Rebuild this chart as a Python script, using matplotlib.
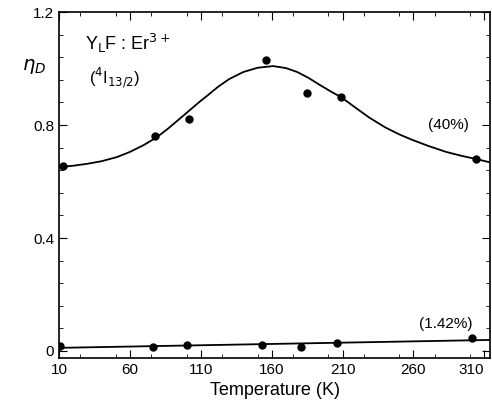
import matplotlib
matplotlib.use("Agg")
import matplotlib.pyplot as plt
from matplotlib.ticker import MultipleLocator

plt.rcParams['font.family'] = ['Liberation Sans', 'DejaVu Sans']

# 40% sample: measured points
t40 = [13, 78, 102, 156, 185, 209, 304]
e40 = [0.655, 0.761, 0.821, 1.030, 0.913, 0.899, 0.680]
# 40% fitted curve
t40c = [10, 20, 30, 40, 51, 60, 70, 79, 87, 95, 102, 109, 115, 122, 130, 140, 150, 161, 170,
        178, 186, 194, 202, 209, 219, 229, 240, 250, 259, 270, 283, 294, 304, 314]
e40c = [0.651, 0.656, 0.663, 0.672, 0.687, 0.705, 0.730, 0.757, 0.788, 0.822, 0.852, 0.882,
        0.906, 0.935, 0.963, 0.988, 1.003, 1.009, 1.002, 0.988, 0.967, 0.942, 0.918, 0.899,
        0.862, 0.826, 0.792, 0.767, 0.748, 0.727, 0.705, 0.691, 0.680, 0.668]

# 1.42% sample
t142 = [11, 76, 100, 153, 181, 206, 301]
e142 = [0.018, 0.014, 0.021, 0.021, 0.014, 0.028, 0.046]
t142c = [10, 314]
e142c = [0.011, 0.039]

xticks = [10, 60, 110, 160, 210, 260, 310]
yticks = [0, 0.4, 0.8, 1.2]
ylabels = ['0', '0.4', '0.8', '1.2']

fig = plt.figure(figsize=(4.92, 4.05), dpi=100)
ax = fig.add_axes([0.12, 0.116, 0.876, 0.854])

ax.plot(t40c, e40c, color='black', lw=1.3)
ax.plot(t40, e40, 'o', color='black', ms=5)
ax.plot(t142c, e142c, color='black', lw=1.3)
ax.plot(t142, e142, 'o', color='black', ms=5)

ax.set_xlim(10, 314)
ax.set_ylim(-0.025, 1.2)
ax.set_xticks(xticks)
ax.set_xticklabels([str(v) for v in xticks])
ax.set_yticks(yticks)
ax.set_yticklabels(ylabels)
ax.yaxis.set_minor_locator(MultipleLocator(0.08))
ax.xaxis.set_minor_locator(MultipleLocator(25))
ax.tick_params(which='both', direction='in', top=True, right=True, labelsize=11)
ax.tick_params(which='major', length=6)
ax.tick_params(which='minor', length=3)
for s in ax.spines.values():
    s.set_linewidth(1.2)
ax.get_xticklabels()[-1].set_horizontalalignment('right')
ax.get_xticklabels()[-1].set_x(310)

ax.set_xlabel('Temperature (K)', fontsize=13, labelpad=4)

fig.text(0.045, 0.835, r'$\eta_D$', fontsize=14, ha='left', va='center')
fig.text(0.172, 0.893, r'Y$_{\rm L}$F : Er$^{3+}$', fontsize=13, ha='left', va='center')
fig.text(0.180, 0.808, r'($^4$I$_{13/2}$)', fontsize=12, ha='left', va='center')
ax.text(285, 0.80, '(40%)', fontsize=11, ha='center', va='center')
ax.text(283, 0.095, '(1.42%)', fontsize=11, ha='center', va='center')

fig.savefig('out.png', dpi=100)
